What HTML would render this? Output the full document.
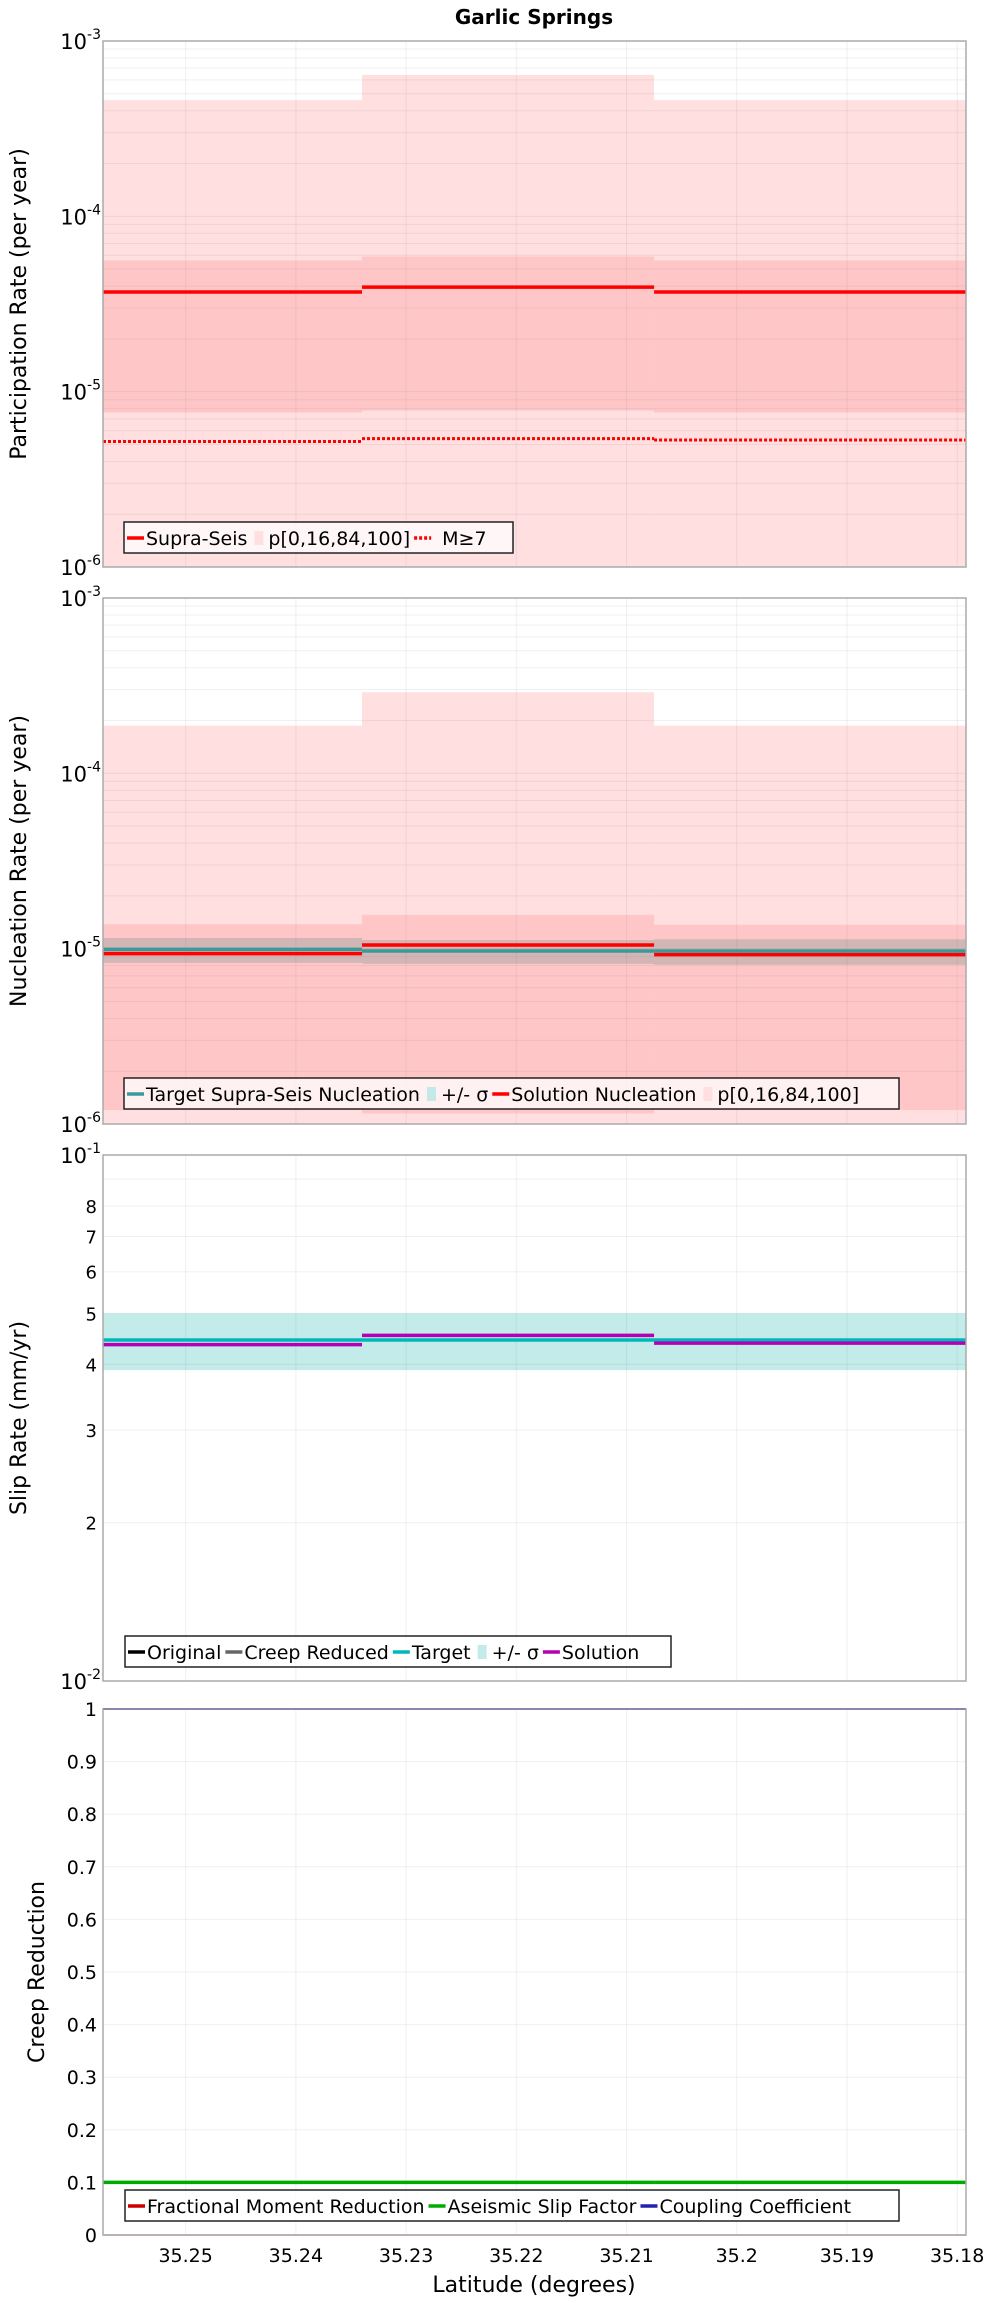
<!DOCTYPE html>
<html><head><meta charset="utf-8"><style>
html,body{margin:0;padding:0;background:#fff;}
svg{display:block;font-family:"DejaVu Sans","Liberation Sans",sans-serif;}
</style></head><body>
<svg id="chart" width="1000" height="2300" viewBox="0 0 1000 2300" xmlns="http://www.w3.org/2000/svg">
<text x="534" y="24" text-anchor="middle" font-weight="bold" font-size="20">Garlic Springs</text>
</svg>
<script>
// ---- data ----
const segEdges = [35.2575, 35.2340, 35.2075, 35.1792];
const xTicks = [35.25, 35.24, 35.23, 35.22, 35.21, 35.2, 35.19, 35.18];
const xTickLabels = ["35.25","35.24","35.23","35.22","35.21","35.2","35.19","35.18"];
// panel 1: participation
const partOuterHi = [4.6e-4, 6.4e-4, 4.6e-4];
const partOuterLo = [1e-6, 1e-6, 1e-6];
const partInnerHi = [5.6e-5, 5.9e-5, 5.6e-5];
const partInnerLo = [7.6e-6, 7.8e-6, 7.6e-6];
const partSupra = [3.7e-5, 3.95e-5, 3.7e-5];
const partM7 = [5.2e-6, 5.4e-6, 5.3e-6];
// panel 2: nucleation
const nuclOuterHi = [1.87e-4, 2.9e-4, 1.87e-4];
const nuclOuterLo = [1e-6, 1e-6, 1e-6];
const nuclInnerHi = [1.38e-5, 1.56e-5, 1.37e-5];
const nuclInnerLo = [1.2e-6, 1.15e-6, 1.2e-6];
const nuclSigmaHi = [1.15e-5, 1.12e-5, 1.13e-5];
const nuclSigmaLo = [8.3e-6, 8.2e-6, 8.1e-6];
const nuclTarget = [9.9e-6, 9.7e-6, 9.7e-6];
const nuclSolution = [9.37e-6, 1.05e-5, 9.25e-6];
// panel 3: slip
const slipSigmaHi = [5.0, 5.0, 5.0];
const slipSigmaLo = [3.9, 3.9, 3.9];
const slipTarget = [4.45, 4.45, 4.45];
const slipSolution = [4.36, 4.54, 4.39];
// panel 4: creep
const creepFMR = [0, 0, 0];
const creepASF = [0.1, 0.1, 0.1];
const creepCC = [1, 1, 1];
const creepTicks = [0,0.1,0.2,0.3,0.4,0.5,0.6,0.7,0.8,0.9,1];
const creepTickLabels = ["0","0.1","0.2","0.3","0.4","0.5","0.6","0.7","0.8","0.9","1"];
const slipTicks = [2,3,4,5,6,7,8];
const slipTickLabels = ["2","3","4","5","6","7","8"];

const NS = "http://www.w3.org/2000/svg";
const svg = document.getElementById('chart');
const X0 = 103, X1 = 966;
function xs(v){ return X0 + (v - segEdges[0]) / (segEdges[3] - segEdges[0]) * (X1 - X0); }
function mk(tag, attrs, parent){
  const e = document.createElementNS(NS, tag);
  for (const k in attrs) e.setAttribute(k, attrs[k]);
  (parent || svg).appendChild(e);
  return e;
}
function logScale(top, bot, lo, hi){ return v => bot - (Math.log10(v) - Math.log10(lo)) / (Math.log10(hi) - Math.log10(lo)) * (bot - top); }
function linScale(top, bot, lo, hi){ return v => bot - (v - lo) / (hi - lo) * (bot - top); }

function panelFrame(g, top, bot){
  const r = mk('rect', {x:X0, y:top, width:X1-X0, height:bot-top, fill:'#fff'}, g);
  
  
}
function grid(g, top, bot, ys, yvals){
  xTicks.forEach(t => {
    const l = mk('line', {x1:xs(t), x2:xs(t), y1:top, y2:bot, stroke:'rgba(120,120,120,0.11)', 'stroke-width':1}, g);
    
    
  });
  yvals.forEach(v => {
    const l = mk('line', {x1:X0, x2:X1, y1:ys(v), y2:ys(v), stroke:'rgba(120,120,120,0.11)', 'stroke-width':1}, g);
    
    
  });
}
function band(g, ys, hi, lo, fill, name){
  for (let i = 0; i < 3; i++){
    const a = xs(segEdges[i]), b = xs(segEdges[i+1]);
    const r = mk('rect', {x:a, y:ys(hi[i]), width:b-a, height:ys(lo[i])-ys(hi[i]), fill:fill}, g);
    
    
  }
}
function steps(g, ys, vals, color, w, name, dash){
  for (let i = 0; i < 3; i++){
    const a = xs(segEdges[i]), b = xs(segEdges[i+1]);
    const attrs = {x1:a, x2:b, y1:ys(vals[i]), y2:ys(vals[i]), stroke:color, 'stroke-width':w};
    if (dash) attrs['stroke-dasharray'] = dash;
    const l = mk('line', attrs, g);
    
    
  }
}
function border(g, top, bot){
  const r = mk('rect', {x:X0, y:top, width:X1-X0, height:bot-top, fill:'none', stroke:'#aaa', 'stroke-width':1.5}, g);
  
  
}
function powLabel(g, y, exp){
  const t = mk('text', {x:101, y:y+8, 'text-anchor':'end', 'font-size':21}, g);
  
  
  const s1 = mk('tspan', {}, t); s1.textContent = '10';
  const s2 = mk('tspan', {dy:-10, 'font-size':14}, t); s2.textContent = exp;
}
function yTitle(g, x, cy, txt){
  const t = mk('text', {x:x, y:cy, 'text-anchor':'middle', 'font-size':22, transform:`rotate(-90 ${x} ${cy})`}, g);
  
  
  t.textContent = txt;
}
function legend(g, x, y, w, items){
  const box = mk('rect', {x:x, y:y, width:w, height:31, fill:'rgba(255,255,255,0.75)', stroke:'#222', 'stroke-width':1.5}, g);
  
  
  let cx = x + 3;
  items.forEach(it => {
    if (it.type === 'line'){
      const l = mk('line', {x1:cx, x2:cx+17, y1:y+16, y2:y+16, stroke:it.color, 'stroke-width':3.5}, g);
      
      
      if (it.dash) l.setAttribute('stroke-dasharray', it.dash);
      cx += it.sw || 19;
    } else {
      const r = mk('rect', {x:cx+3, y:y+9, width:9, height:14, fill:it.color}, g);
      
      
      cx += 17;
    }
    const t = mk('text', {x:cx, y:y+23, 'font-size':19}, g);
    
    
    t.textContent = it.label;
    cx += t.getComputedTextLength() + 4;
  });
}
function minorLog(lo, hi){
  const out = [];
  for (let e = Math.log10(lo); e < Math.log10(hi); e++)
    for (let m = 1; m < 10; m++) out.push(m * Math.pow(10, e));
  return out;
}

// ---- panel 1 ----
(function(){
  const top = 41, bot = 567;
  const g = mk('g', {});  
  const ys = logScale(top, bot, 1e-6, 1e-3);
  panelFrame(g, top, bot);
  band(g, ys, partOuterHi, partOuterLo, '#ffdfe0', 'p0-100-band');
  band(g, ys, partInnerHi, partInnerLo, '#fec6c7', 'p16-84-band');
  grid(g, top, bot, ys, minorLog(1e-6, 1e-3));
  steps(g, ys, partSupra, '#ff0000', 3.5, 'supra-seis-line');
  steps(g, ys, partM7, '#ff0000', 3, 'm7-line', '3,2');
  border(g, top, bot);
  powLabel(g, top, '-3'); powLabel(g, ys(1e-4), '-4'); powLabel(g, ys(1e-5), '-5'); powLabel(g, bot, '-6');
  yTitle(g, 26, (top+bot)/2, 'Participation Rate (per year)');
  legend(g, 124, 522, 389, [
    {type:'line', color:'#ff0000', label:'Supra-Seis'},
    {type:'box', color:'#ffdfe0', label:'p[0,16,84,100]'},
    {type:'line', color:'#ff0000', dash:'3,2', label:'M≥7', sw:28}
  ]);
})();

// ---- panel 2 ----
(function(){
  const top = 598, bot = 1124;
  const g = mk('g', {});  
  const ys = logScale(top, bot, 1e-6, 1e-3);
  panelFrame(g, top, bot);
  band(g, ys, nuclOuterHi, nuclOuterLo, '#ffdfe0', 'p0-100-band');
  band(g, ys, nuclInnerHi, nuclInnerLo, '#fec6c7', 'p16-84-band');
  band(g, ys, nuclSigmaHi, nuclSigmaLo, 'rgba(130,150,150,0.35)', 'target-sigma-band');
  grid(g, top, bot, ys, minorLog(1e-6, 1e-3));
  steps(g, ys, nuclTarget, '#3a9a9a', 3.5, 'target-nucleation-line');
  steps(g, ys, nuclSolution, '#ff0000', 3.5, 'solution-nucleation-line');
  border(g, top, bot);
  powLabel(g, top, '-3'); powLabel(g, ys(1e-4), '-4'); powLabel(g, ys(1e-5), '-5'); powLabel(g, bot, '-6');
  yTitle(g, 26, (top+bot)/2, 'Nucleation Rate (per year)');
  legend(g, 124, 1078, 775, [
    {type:'line', color:'#3a9a9a', label:'Target Supra-Seis Nucleation'},
    {type:'box', color:'#c4e9e9', label:'+/- σ'},
    {type:'line', color:'#ff0000', label:'Solution Nucleation'},
    {type:'box', color:'#ffdfe0', label:'p[0,16,84,100]'}
  ]);
})();

// ---- panel 3 ----
(function(){
  const top = 1155, bot = 1681;
  const g = mk('g', {});  
  const ys = logScale(top, bot, 1, 10);
  panelFrame(g, top, bot);
  band(g, ys, slipSigmaHi, slipSigmaLo, '#c2ebea', 'slip-sigma-band');
  grid(g, top, bot, ys, minorLog(1, 10));
  steps(g, ys, slipTarget, '#00b8b8', 3.5, 'target-slip-line');
  steps(g, ys, slipSolution, '#b400b4', 3.5, 'solution-slip-line');
  border(g, top, bot);
  powLabel(g, top, '-1'); powLabel(g, bot, '-2');
  slipTicks.forEach((v, i) => {
    const t = mk('text', {x:97, y:ys(v)+7, 'text-anchor':'end', 'font-size':18}, g);
    
    
    t.textContent = slipTickLabels[i];
  });
  yTitle(g, 26, (top+bot)/2, 'Slip Rate (mm/yr)');
  legend(g, 125, 1636, 546, [
    {type:'line', color:'#000', label:'Original'},
    {type:'line', color:'#666', label:'Creep Reduced'},
    {type:'line', color:'#00b8b8', label:'Target'},
    {type:'box', color:'#c2ebea', label:'+/- σ'},
    {type:'line', color:'#b400b4', label:'Solution'}
  ]);
})();

// ---- panel 4 ----
(function(){
  const top = 1709, bot = 2235;
  const g = mk('g', {});  
  const ys = linScale(top, bot, 0, 1);
  panelFrame(g, top, bot);
  grid(g, top, bot, ys, creepTicks);
  steps(g, ys, creepFMR, '#cc0000', 1.2, 'fractional-moment-line');
  steps(g, ys, creepASF, '#00aa00', 3.5, 'aseismic-slip-line');
  steps(g, ys, creepCC, '#2222aa', 2, 'coupling-coefficient-line');
  border(g, top, bot);
  creepTicks.forEach((v, i) => {
    const t = mk('text', {x:97, y:ys(v)+7, 'text-anchor':'end', 'font-size':19}, g);
    
    
    t.textContent = creepTickLabels[i];
  });
  xTicks.forEach((v, i) => {
    const t = mk('text', {x:xs(v), y:2262, 'text-anchor':'middle', 'font-size':19}, g);
    
    
    t.textContent = xTickLabels[i];
  });
  const xt = mk('text', {x:534, y:2292, 'text-anchor':'middle', 'font-size':22}, g);
  
  
  xt.textContent = 'Latitude (degrees)';
  yTitle(g, 44, (top+bot)/2, 'Creep Reduction');
  legend(g, 125, 2190, 774, [
    {type:'line', color:'#cc0000', label:'Fractional Moment Reduction'},
    {type:'line', color:'#00aa00', label:'Aseismic Slip Factor'},
    {type:'line', color:'#2222aa', label:'Coupling Coefficient'}
  ]);
})();
</script>
</body></html>
